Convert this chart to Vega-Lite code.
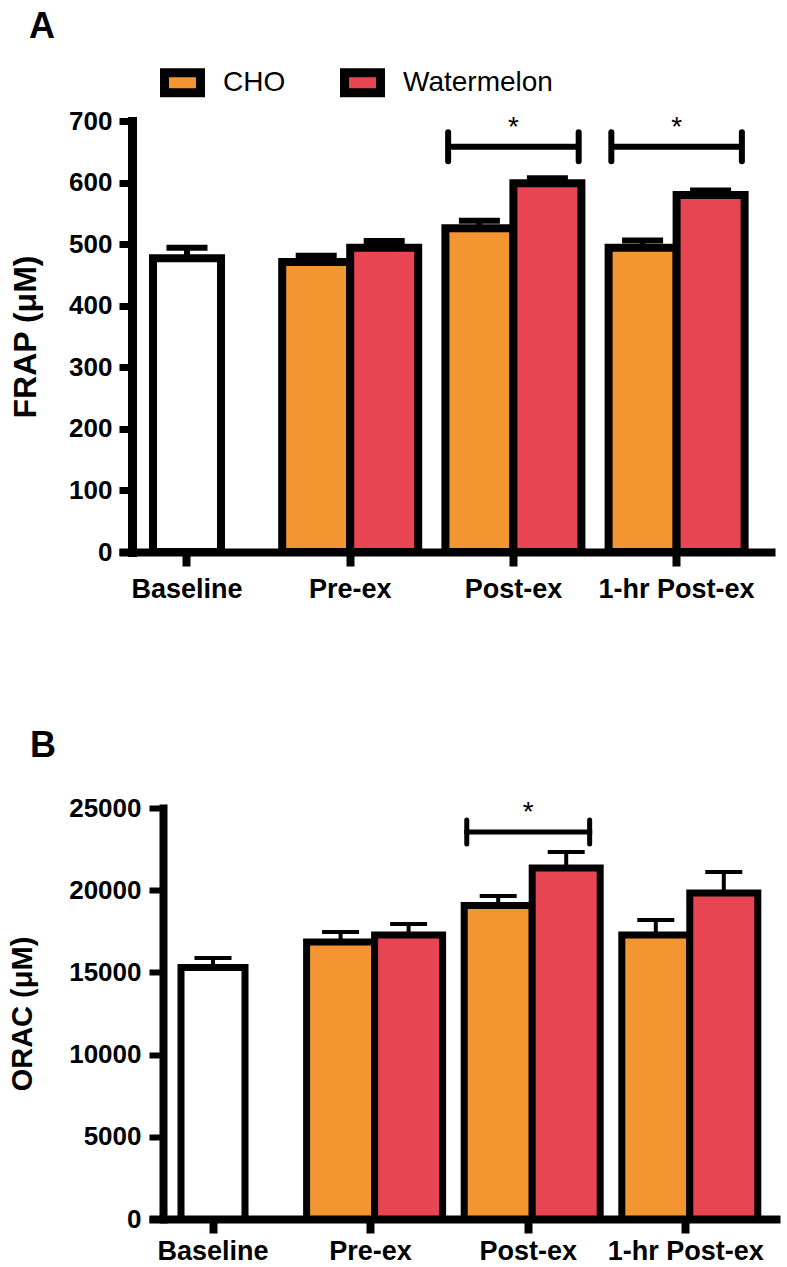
{
  "$schema": "https://vega.github.io/schema/vega-lite/v6.json",
  "background": "white",
  "padding": {"left": 8, "top": 9, "right": 0, "bottom": 0},
  "config": {
    "view": {"stroke": null},
    "font": "Liberation Sans",
    "axis": {"domainColor": "black", "tickColor": "black", "labelColor": "black", "titleColor": "black", "grid": false, "labelFlush": false, "labelOverlap": false}
  },
  "datasets": {
    "frap": [
      {"time": "Baseline", "group": "Baseline", "mean": 477, "upper": 494},
      {"time": "Pre-ex", "group": "CHO", "mean": 471, "upper": 481},
      {"time": "Pre-ex", "group": "Watermelon", "mean": 494, "upper": 505},
      {"time": "Post-ex", "group": "CHO", "mean": 526, "upper": 538},
      {"time": "Post-ex", "group": "Watermelon", "mean": 599, "upper": 607},
      {"time": "1-hr Post-ex", "group": "CHO", "mean": 494, "upper": 506},
      {"time": "1-hr Post-ex", "group": "Watermelon", "mean": 580, "upper": 587}
    ],
    "orac": [
      {"time": "Baseline", "group": "Baseline", "mean": 15300, "upper": 15880},
      {"time": "Pre-ex", "group": "CHO", "mean": 16850, "upper": 17460},
      {"time": "Pre-ex", "group": "Watermelon", "mean": 17275, "upper": 17940},
      {"time": "Post-ex", "group": "CHO", "mean": 19070, "upper": 19650},
      {"time": "Post-ex", "group": "Watermelon", "mean": 21350, "upper": 22320},
      {"time": "1-hr Post-ex", "group": "CHO", "mean": 17275, "upper": 18190},
      {"time": "1-hr Post-ex", "group": "Watermelon", "mean": 19830, "upper": 21100}
    ],
    "sigA": [
      {"time": "Post-ex", "y": 658},
      {"time": "1-hr Post-ex", "y": 658}
    ],
    "sigB": [
      {"time": "Post-ex", "y": 23540}
    ]
  },
  "columns": 1,
  "spacing": 126,
  "concat": [
    {
      "width": 633,
      "height": 431,
      "title": {"text": "A", "anchor": "start", "frame": "group", "dx": -113, "offset": 62, "fontSize": 36, "fontWeight": "bold", "font": "Liberation Sans", "color": "black"},
      "encoding": {
        "x": {
          "field": "time", "type": "nominal", "sort": null,
          "scale": {"domain": ["Baseline", "Pre-ex", "Post-ex", "1-hr Post-ex"], "range": [-23, 633], "paddingInner": 0.1667, "paddingOuter": 0.0931, "align": 0},
          "axis": {"title": null, "labelAngle": 0, "domainWidth": 8, "tickWidth": 8, "tickSize": 14, "labelFontSize": 27, "labelFontWeight": "bold", "labelPadding": 10}
        }
      },
      "layer": [
        {
          "data": {"name": "frap"},
          "transform": [{"filter": "datum.group !== 'Baseline'"}],
          "encoding": {
            "xOffset": {"field": "group", "type": "nominal", "scale": {"domain": ["CHO", "Watermelon"], "paddingInner": 0, "paddingOuter": 0}}
          },
          "layer": [
            {
              "mark": {"type": "bar", "stroke": "black", "strokeWidth": 8},
              "encoding": {
                "y": {
                  "field": "mean", "type": "quantitative",
                  "scale": {"domain": [0, 700], "nice": false},
                  "axis": {"title": "FRAP (μM)", "titleFontSize": 32, "titleFontWeight": "bold", "titlePadding": 26, "values": [0, 100, 200, 300, 400, 500, 600, 700], "offset": 10, "domainWidth": 9, "domainCap": "square", "tickWidth": 7, "tickSize": 13, "labelFontSize": 26, "labelFontWeight": "bold", "labelPadding": 7}
                },
                "fill": {
                  "field": "group", "type": "nominal",
                  "scale": {"domain": ["CHO", "Watermelon"], "range": ["#F39530", "#E84553"]},
                  "legend": {"orient": "none", "legendX": 18, "legendY": -61, "direction": "horizontal", "title": null, "symbolType": "M-1,-0.556L1,-0.556L1,0.556L-1,0.556Z", "symbolSize": 1296, "symbolStrokeColor": "black", "symbolStrokeWidth": 9, "symbolOpacity": 1, "labelFontSize": 28, "labelFont": "Liberation Sans", "labelColor": "black", "labelOffset": 18, "columnPadding": 40, "labelLimit": 0}
                }
              }
            },
            {
              "mark": {"type": "rule", "strokeWidth": 6, "color": "black"},
              "encoding": {"y": {"field": "mean", "type": "quantitative"}, "y2": {"field": "upper"}}
            },
            {
              "mark": {"type": "tick", "size": 41, "thickness": 6, "color": "black", "opacity": 1},
              "encoding": {"y": {"field": "upper", "type": "quantitative"}}
            }
          ]
        },
        {
          "data": {"name": "frap"},
          "transform": [{"filter": "datum.group === 'Baseline'"}],
          "layer": [
            {
              "mark": {"type": "bar", "width": {"band": 0.5}, "fill": "white", "stroke": "black", "strokeWidth": 8},
              "encoding": {"y": {"field": "mean", "type": "quantitative"}}
            },
            {
              "mark": {"type": "rule", "strokeWidth": 6, "color": "black"},
              "encoding": {"y": {"field": "mean", "type": "quantitative"}, "y2": {"field": "upper"}}
            },
            {
              "mark": {"type": "tick", "size": 41, "thickness": 6, "color": "black", "opacity": 1},
              "encoding": {"y": {"field": "upper", "type": "quantitative"}}
            }
          ]
        },
        {
          "data": {"name": "sigA"},
          "encoding": {"y": {"field": "y", "type": "quantitative"}},
          "layer": [
            {"mark": {"type": "tick", "size": 132, "thickness": 6, "color": "black", "opacity": 1}},
            {
              "mark": {"type": "point", "shape": "M0,-1L0,1", "size": 841, "filled": false, "stroke": "black", "strokeWidth": 6, "strokeCap": "round", "opacity": 1},
              "encoding": {"x": {"field": "time", "type": "nominal", "bandPosition": 0.02}}
            },
            {
              "mark": {"type": "point", "shape": "M0,-1L0,1", "size": 841, "filled": false, "stroke": "black", "strokeWidth": 6, "strokeCap": "round", "opacity": 1},
              "encoding": {"x": {"field": "time", "type": "nominal", "bandPosition": 0.98}}
            },
            {"mark": {"type": "text", "text": "*", "fontSize": 28, "font": "Liberation Sans", "baseline": "middle", "dy": -19, "color": "black"}}
          ]
        }
      ]
    },
    {
      "width": 638,
      "height": 411,
      "title": {"text": "B", "anchor": "start", "frame": "group", "dx": -112, "offset": 30, "fontSize": 36, "fontWeight": "bold", "font": "Liberation Sans", "color": "black"},
      "encoding": {
        "x": {
          "field": "time", "type": "nominal", "sort": null,
          "scale": {"domain": ["Baseline", "Pre-ex", "Post-ex", "1-hr Post-ex"], "range": [7, 638], "paddingInner": 0.1878, "paddingOuter": 0.0958, "align": 0},
          "axis": {"title": null, "labelAngle": 0, "domainWidth": 8, "tickWidth": 8, "tickSize": 14, "labelFontSize": 27, "labelFontWeight": "bold", "labelPadding": 5}
        }
      },
      "layer": [
        {
          "data": {"name": "orac"},
          "transform": [{"filter": "datum.group !== 'Baseline'"}],
          "encoding": {
            "xOffset": {"field": "group", "type": "nominal", "scale": {"domain": ["CHO", "Watermelon"], "paddingInner": 0, "paddingOuter": 0}}
          },
          "layer": [
            {
              "mark": {"type": "bar", "stroke": "black", "strokeWidth": 7},
              "encoding": {
                "y": {
                  "field": "mean", "type": "quantitative",
                  "scale": {"domain": [0, 25000], "nice": false},
                  "axis": {"title": "ORAC (μM)", "titleFontSize": 29, "titleFontWeight": "bold", "titlePadding": 31, "values": [0, 5000, 10000, 15000, 20000, 25000], "format": "d", "offset": -21, "domainWidth": 8, "domainCap": "square", "tickWidth": 6, "tickSize": 14, "labelFontSize": 26, "labelFontWeight": "bold", "labelPadding": 8}
                },
                "fill": {
                  "field": "group", "type": "nominal",
                  "scale": {"domain": ["CHO", "Watermelon"], "range": ["#F39530", "#E84553"]},
                  "legend": null
                }
              }
            },
            {
              "mark": {"type": "rule", "strokeWidth": 4, "color": "black"},
              "encoding": {"y": {"field": "mean", "type": "quantitative"}, "y2": {"field": "upper"}}
            },
            {
              "mark": {"type": "tick", "size": 37, "thickness": 4, "color": "black", "opacity": 1},
              "encoding": {"y": {"field": "upper", "type": "quantitative"}}
            }
          ]
        },
        {
          "data": {"name": "orac"},
          "transform": [{"filter": "datum.group === 'Baseline'"}],
          "layer": [
            {
              "mark": {"type": "bar", "width": {"band": 0.5}, "fill": "white", "stroke": "black", "strokeWidth": 7},
              "encoding": {"y": {"field": "mean", "type": "quantitative"}}
            },
            {
              "mark": {"type": "rule", "strokeWidth": 4, "color": "black"},
              "encoding": {"y": {"field": "mean", "type": "quantitative"}, "y2": {"field": "upper"}}
            },
            {
              "mark": {"type": "tick", "size": 37, "thickness": 4, "color": "black", "opacity": 1},
              "encoding": {"y": {"field": "upper", "type": "quantitative"}}
            }
          ]
        },
        {
          "data": {"name": "sigB"},
          "encoding": {"y": {"field": "y", "type": "quantitative"}},
          "layer": [
            {"mark": {"type": "tick", "size": 128, "thickness": 5, "color": "black", "opacity": 1}},
            {
              "mark": {"type": "point", "shape": "M0,-1L0,1", "size": 576, "filled": false, "stroke": "black", "strokeWidth": 5, "strokeCap": "round", "opacity": 1},
              "encoding": {"x": {"field": "time", "type": "nominal", "bandPosition": 0.02}}
            },
            {
              "mark": {"type": "point", "shape": "M0,-1L0,1", "size": 576, "filled": false, "stroke": "black", "strokeWidth": 5, "strokeCap": "round", "opacity": 1},
              "encoding": {"x": {"field": "time", "type": "nominal", "bandPosition": 0.98}}
            },
            {"mark": {"type": "text", "text": "*", "fontSize": 28, "font": "Liberation Sans", "baseline": "middle", "dy": -19, "color": "black"}}
          ]
        }
      ]
    }
  ]
}
